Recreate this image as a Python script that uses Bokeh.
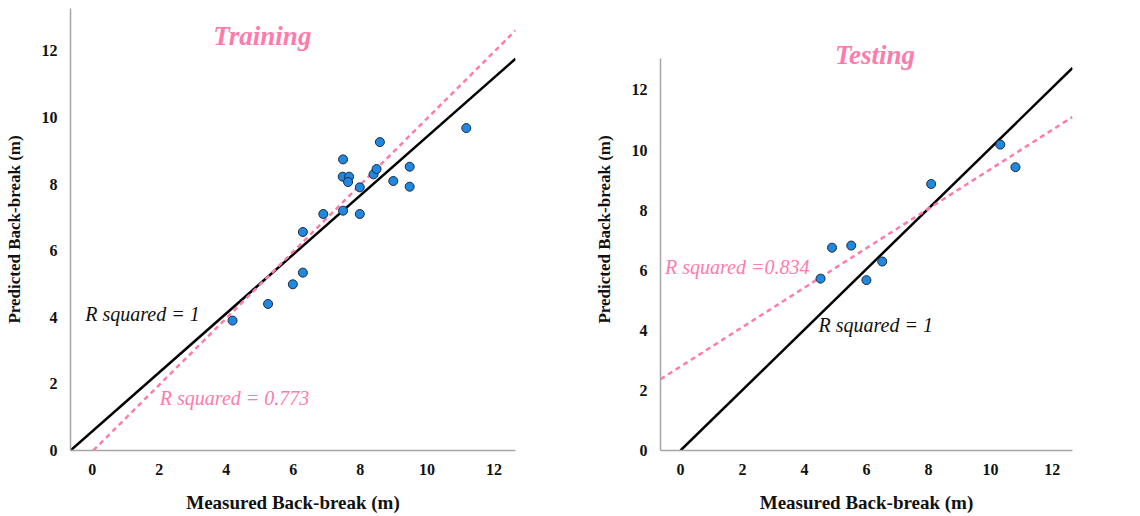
from bokeh.plotting import figure
from bokeh.layouts import row
from bokeh.models import Range1d, Label, FixedTicker
from bokeh.embed import file_html
from bokeh.resources import INLINE

# ---- data ----
train_measured = [4.19, 5.25, 5.99, 6.29, 6.29, 6.90, 7.49, 7.99, 7.49, 7.48,
                  7.67, 7.64, 7.99, 8.40, 8.49, 8.59, 8.99, 9.48, 9.48, 11.17]
train_predicted = [3.90, 4.40, 4.99, 5.34, 6.56, 7.10, 7.20, 7.10, 8.74, 8.22,
                   8.22, 8.06, 7.90, 8.29, 8.45, 9.26, 8.09, 8.52, 7.92, 9.68]
test_measured = [4.52, 4.89, 5.51, 6.00, 6.51, 8.09, 10.32, 10.81]
test_predicted = [5.72, 6.75, 6.82, 5.67, 6.29, 8.87, 10.18, 9.43]

train_ref_x = [-0.65, 12.64]
train_ref_y = [0.0, 11.76]
train_fit_x = [0.03, 12.64]
train_fit_y = [0.0, 12.61]
test_ref_x = [0.0, 12.65]
test_ref_y = [0.0, 12.73]
test_fit_x = [-0.645, 12.65]
test_fit_y = [2.37, 11.1]

ticks = [0, 2, 4, 6, 8, 10, 12]
x_label = "Measured Back-break (m)"
y_label = "Predicted Back-break (m)"

PINK = "#ff7bac"
FONT = "Liberation Serif"


def style(p):
    p.xgrid.visible = False
    p.ygrid.visible = False
    p.outline_line_color = None
    p.background_fill_color = "white"
    p.border_fill_color = "white"
    for ax in (p.xaxis[0], p.yaxis[0]):
        ax.ticker = FixedTicker(ticks=ticks)
        ax.axis_line_color = "#a6a6a6"
        ax.axis_line_width = 1.5
        ax.major_tick_line_color = None
        ax.minor_tick_line_color = None
        ax.major_label_text_font = FONT
        ax.major_label_text_font_style = "bold"
        ax.major_label_text_font_size = "16px"
        ax.major_label_text_color = "#111111"
        ax.axis_label_text_font = FONT
        ax.axis_label_text_font_style = "bold"
        ax.axis_label_text_color = "#111111"
        ax.major_label_standoff = 7
    p.xaxis[0].axis_label_text_font_size = "19px"
    p.yaxis[0].axis_label_text_font_size = "17px"
    p.xaxis[0].axis_label_standoff = 14
    p.yaxis[0].axis_label_standoff = 15


def label(p, x, y, text, color, size, style_="italic"):
    p.add_layout(Label(x=x, y=y, text=text, text_color=color,
                       text_font=FONT, text_font_size=size,
                       text_font_style=style_, text_align="center",
                       text_baseline="middle"))


# ---- Training ----
p1 = figure(frame_width=445, frame_height=442, output_backend="svg",
            toolbar_location=None,
            x_range=Range1d(-0.65, 12.64), y_range=Range1d(0, 13.27),
            x_axis_label=x_label, y_axis_label=y_label,
            min_border_left=70, min_border_right=53, min_border_top=8,
            min_border_bottom=50)
style(p1)
p1.line(train_ref_x, train_ref_y, line_color="black", line_width=2.5)
p1.line(train_fit_x, train_fit_y, line_color=PINK, line_width=2.5, line_dash="5 4")
p1.scatter(train_measured, train_predicted, size=9, fill_color="#1f88e0",
           line_color="#1b2a40", line_width=1)
label(p1, 5.08, 12.45, "Training", PINK, "27px", "bold italic")
label(p1, 1.50, 4.10, "R squared = 1", "#111111", "20px")
label(p1, 4.25, 1.57, "R squared = 0.773", PINK, "20px")

# ---- Testing ----
p2 = figure(frame_width=412, frame_height=442, output_backend="svg",
            toolbar_location=None,
            x_range=Range1d(-0.645, 12.65), y_range=Range1d(0, 14.71),
            x_axis_label=x_label, y_axis_label=y_label,
            min_border_left=92, min_border_right=60, min_border_top=8,
            min_border_bottom=50)
style(p2)
p2.yaxis[0].bounds = (0, 13.06)
p2.line(test_ref_x, test_ref_y, line_color="black", line_width=2.5)
p2.line(test_fit_x, test_fit_y, line_color=PINK, line_width=2.5, line_dash="5 4")
p2.scatter(test_measured, test_predicted, size=9, fill_color="#1f88e0",
           line_color="#1b2a40", line_width=1)
label(p2, 6.28, 13.17, "Testing", PINK, "27px", "bold italic")
label(p2, 1.83, 6.12, "R squared =0.834", PINK, "20px")
label(p2, 6.30, 4.18, "R squared = 1", "#111111", "20px")

layout = row(p1, p2, spacing=0)
open("out.html", "w").write(file_html(layout, INLINE))
